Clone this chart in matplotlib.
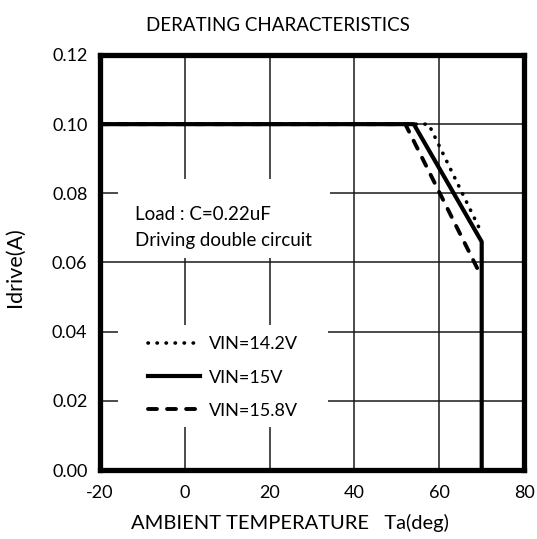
import numpy as np
import matplotlib.pyplot as plt
from matplotlib.patches import Rectangle

plt.rcParams['font.family'] = ['Lato', 'DejaVu Sans']
plt.rcParams['axes.unicode_minus'] = False

# data
temp_142 = [-20, 57.5, 70]
idrive_142 = [0.10, 0.10, 0.0685]

temp_15 = [-20, 54, 70, 70]
idrive_15 = [0.10, 0.10, 0.066, 0.0]

temp_158 = [-20, 52, 69.5]
idrive_158 = [0.10, 0.10, 0.057]

labels = ['VIN=14.2V', 'VIN=15V', 'VIN=15.8V']
xticks = [-20, 0, 20, 40, 60, 80]
yticks = [0.00, 0.02, 0.04, 0.06, 0.08, 0.10, 0.12]

fig = plt.figure(figsize=(5.37, 5.39), dpi=100, facecolor='white')
ax = fig.add_axes([0.186, 0.128, 0.79, 0.77])

l1, = ax.plot(temp_142, idrive_142, color='black', lw=2.6, linestyle=(0, (0.1, 2.4)),
              dash_capstyle='round', label=labels[0], zorder=3)
l2, = ax.plot(temp_15, idrive_15, color='black', lw=3.0, label=labels[1], zorder=4)
l3, = ax.plot(temp_158, idrive_158, color='black', lw=2.8, linestyle=(0, (2.3, 2.6)),
              dash_capstyle='round', label=labels[2], zorder=3)

ax.set_xlim(-20, 80)
ax.set_ylim(0, 0.12)
ax.set_xticks(xticks)
ax.set_yticks(yticks)
ax.set_yticklabels([f'{v:.2f}' for v in yticks])
ax.tick_params(length=0, labelsize=13)
ax.tick_params(axis='y', pad=9)
ax.tick_params(axis='x', pad=11)
ax.grid(True, color='#1a1a1a', lw=1.1)
ax.set_axisbelow(True)
for s in ax.spines.values():
    s.set_linewidth(3.8)

fig.text(0.518, 0.953, 'DERATING CHARACTERISTICS', fontsize=13.5, ha='center', va='center')
ax.set_xlabel('AMBIENT TEMPERATURE   Ta(deg)', fontsize=14.5)
ax.xaxis.set_label_coords(0.448, -0.105)
ax.set_ylabel('Idrive(A)', fontsize=15.5)
ax.yaxis.set_label_coords(-0.178, 0.49)

# white boxes behind the note and the legend hide the grid
ax.add_patch(Rectangle((0.042, 0.511), 0.5, 0.19, transform=ax.transAxes,
                       facecolor='white', edgecolor='none', zorder=2))
ax.text(0.083, 0.615, 'Load : C=0.22uF', fontsize=13.5, va='center',
        transform=ax.transAxes, zorder=5)
ax.text(0.083, 0.552, 'Driving double circuit', fontsize=13.5, va='center',
        transform=ax.transAxes, zorder=5)

ax.add_patch(Rectangle((0.042, 0.104), 0.496, 0.245, transform=ax.transAxes,
                       facecolor='white', edgecolor='none', zorder=2))
leg = ax.legend(handles=[l1, l2, l3], loc='upper left', bbox_to_anchor=(0.113, 0.322),
                frameon=False, fontsize=13, handlelength=2.9, handletextpad=0.5,
                labelspacing=0.95, borderpad=0, borderaxespad=0)
leg.set_zorder(5)

plt.savefig('out.png', dpi=100, facecolor='white')
